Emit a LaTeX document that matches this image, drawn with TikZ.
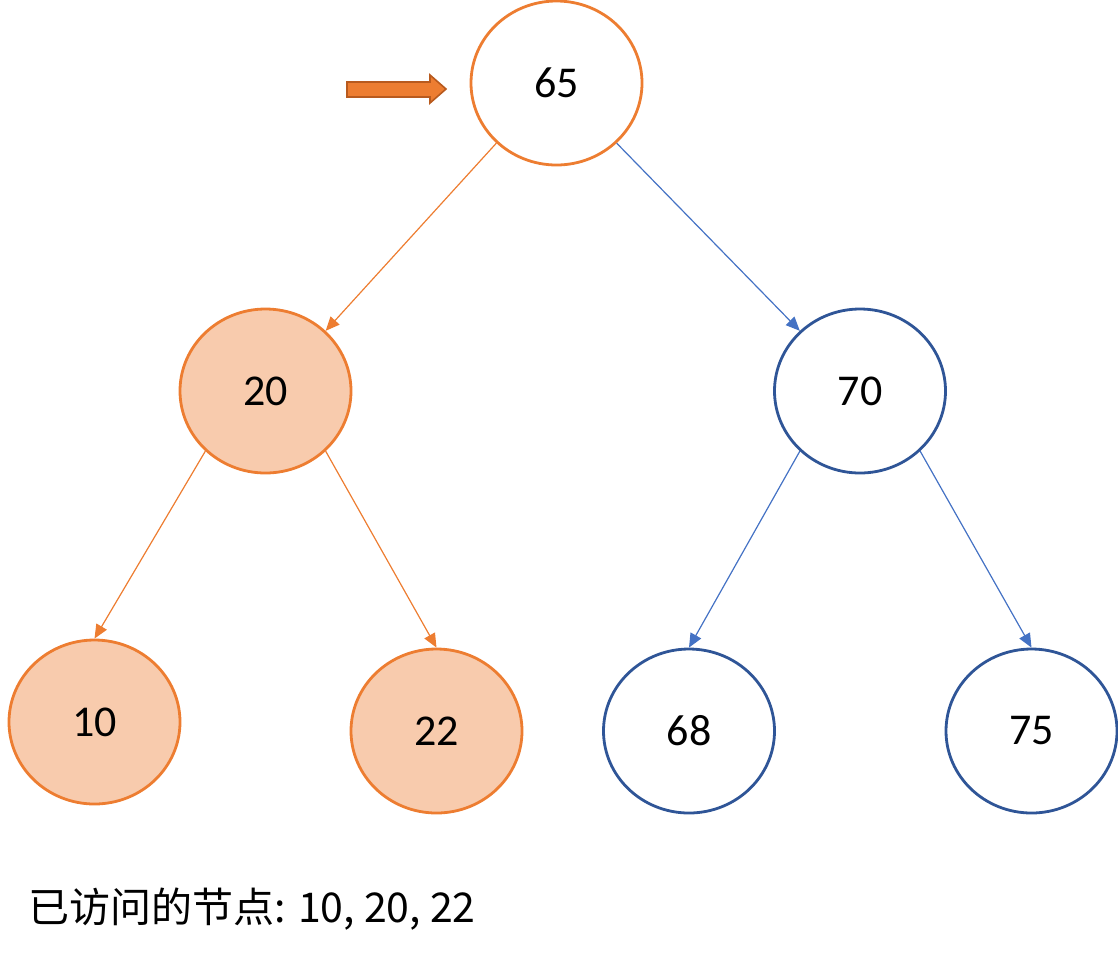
\documentclass[tikz,border=0pt]{standalone}
\usepackage{fontspec}
\setmainfont{Carlito}
\newfontfamily\cjk{Noto Sans CJK SC}
\usetikzlibrary{shapes.geometric}
\usetikzlibrary{arrows.meta}

\definecolor{lineorange}{HTML}{ED7D31}
\definecolor{seenfill}{HTML}{F8CBAD}
\definecolor{arrowedge}{HTML}{B85A1E}
\definecolor{nodeblue}{HTML}{2F5597}
\definecolor{edgeblue}{HTML}{4472C4}

\tikzset{
  key/.style={ellipse, minimum width=85.5pt, minimum height=82pt, inner sep=0pt,
    line width=1.4pt, font=\fontsize{22}{26}\selectfont},
  current/.style={key, draw=lineorange, fill=white},
  seen/.style={key, draw=lineorange, fill=seenfill},
  todo/.style={key, draw=nodeblue, fill=white},
  link/.style={line width=0.6pt, -{Triangle[length=7pt,width=6pt]}},
}

\begin{document}
\begin{tikzpicture}[x=0.5pt, y=-0.5pt]
      \useasboundingbox (0,0) rectangle (1118,960);

      \node[current] (n65) at (556.5,83) {65};
      \node[seen] (n20) at (265.5,391) {20};
      \node[todo] (n70) at (860,391) {70};
      \node[seen] (n10) at (94.5,722) {10};
      \node[seen] (n22) at (436.5,731) {22};
      \node[todo] (n68) at (689,731) {68};
      \node[todo] (n75) at (1031.5,731) {75};

      \draw[link, lineorange] (n65.225) -- (n20.45);
      \draw[link, edgeblue] (n65.-45) -- (n70.135);
      \draw[link, lineorange] (n20.225) -- (n10.north);
      \draw[link, lineorange] (n20.-45) -- (n22.north);
      \draw[link, edgeblue] (n70.225) -- (n68.north);
      \draw[link, edgeblue] (n70.-45) -- (n75.north);

      % pointer to the current node
      \draw[draw=arrowedge, fill=lineorange, line width=0.8pt]
        (347,82) -- (430,82) -- (430,75) -- (446,89) -- (430,103) -- (430,97) -- (347,97) -- cycle;

      \node[anchor=base west, inner sep=0pt, font=\cjk\fontsize{20.5}{25}\selectfont] (visited)
        at (28,922) {已访问的节点: 10, 20, 22};
    \end{tikzpicture}
\end{document}
